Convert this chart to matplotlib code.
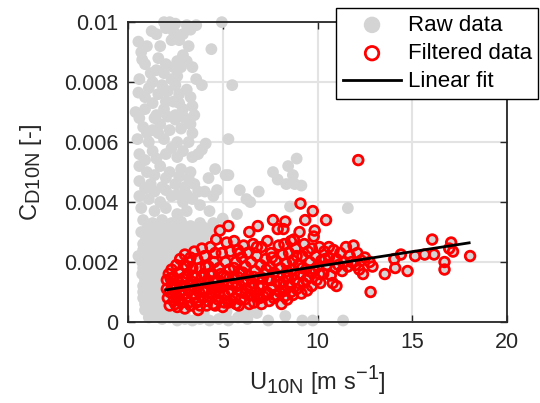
import numpy as np
import matplotlib.pyplot as plt
import matplotlib._mathtext as mathtext
from matplotlib.ticker import FuncFormatter

# raw points not kept by the filter: U10N [m/s], CD10N x 1000
raw_only = np.array([
    [4.95, 10.0], [1.9, 10.0], [2.2, 10.0], [2.5, 9.95], [2.0, 9.8], [3.1, 9.9], [3.3, 9.75], [2.4, 9.7],
    [1.25, 9.7], [0.55, 9.35], [1.7, 9.2], [2.3, 9.4], [4.4, 9.1], [3.2, 9.2], [0.7, 9.0],
    [2.9, 8.9], [3.1, 8.7], [3.4, 8.5], [2.8, 8.5], [0.9, 8.6], [0.75, 8.75], [2.0, 8.6], [1.5, 8.4],
    [1.9, 8.3], [2.6, 8.2], [2.3, 8.1], [1.3, 8.0], [0.6, 8.1], [3.9, 7.9], [5.5, 7.9], [2.5, 7.9],
    [3.1, 7.75], [0.55, 7.65], [0.9, 7.5], [1.6, 7.6], [2.1, 7.7], [2.7, 7.6], [3.3, 7.5], [2.4, 7.35],
    [1.3, 7.3], [0.4, 7.0], [0.9, 7.1], [1.9, 7.1], [2.9, 7.1], [3.4, 7.2], [3.5, 6.9], [2.5, 6.9], [1.5, 6.9],
    [0.6, 6.8], [1.4, 6.8], [2.5, 6.75], [3.0, 6.8], [3.3, 6.6], [0.8, 6.5], [1.3, 6.4], [2.2, 6.4],
    [2.8, 6.45], [3.4, 6.3], [0.5, 6.1], [1.1, 6.0], [1.9, 6.1], [2.6, 6.0], [3.2, 6.0], [4.1, 5.95],
    [5.3, 6.1], [0.6, 5.6], [1.3, 5.7], [2.0, 5.6], [2.6, 5.5], [3.4, 5.5], [3.7, 5.6], [3.9, 5.75],
    [0.6, 5.2], [1.0, 5.0], [1.7, 5.2], [2.2, 5.0], [2.8, 5.1], [3.3, 5.0], [4.6, 5.1], [4.25, 4.8],
    [5.15, 4.9], [0.6, 4.7], [1.2, 4.6], [1.8, 4.5], [2.5, 4.6], [3.0, 4.5], [3.5, 4.6], [4.05, 4.35],
    [0.6, 4.2], [1.1, 4.1], [1.7, 4.0], [2.3, 4.2], [2.9, 4.0], [3.4, 4.1], [3.8, 3.9], [4.3, 3.7],
    [0.7, 3.8], [1.4, 3.7], [2.0, 3.8], [2.6, 3.6], [3.1, 3.7],
    [1.0, 6.3], [1.6, 6.3], [2.3, 5.8], [1.5, 5.45], [2.9, 5.7], [0.9, 5.4], [1.4, 4.9], [2.0, 4.8],
    [2.7, 4.85], [3.2, 4.8], [3.7, 4.35], [2.0, 4.4], [1.4, 4.35], [0.9, 4.45], [2.6, 4.25], [3.1, 4.25],
    [1.7, 6.6], [2.1, 6.85], [2.0, 7.35], [2.7, 7.3], [1.1, 7.8], [1.8, 7.9], [3.6, 8.1], [1.2, 8.3],
    [2.4, 8.5], [1.6, 8.8], [2.6, 8.7], [1.0, 9.2], [2.7, 9.4], [1.5, 9.6], [2.9, 9.6], [3.6, 9.9],
    [8.9, 5.45], [8.45, 5.2], [7.65, 5.0], [8.7, 4.9], [7.9, 4.75], [8.35, 4.6], [8.8, 4.6], [9.15, 4.55],
    [5.3, 4.9], [5.9, 4.4], [6.9, 4.35], [6.25, 4.1], [6.45, 4.0], [5.75, 3.6], [11.6, 3.8], [8.55, 3.85],
    [4.7, 4.4], [4.5, 4.2],
    [0.8, 3.4], [1.3, 3.3], [1.8, 3.4], [2.3, 3.3], [2.8, 3.35], [3.3, 3.2], [3.8, 3.3], [4.5, 3.3], [5.0, 3.45],
    [1.05, 3.15], [1.55, 3.2], [2.05, 3.1], [2.55, 3.2], [3.05, 3.05], [3.55, 3.1], [4.0, 3.15],
    [0.7, 3.0], [1.1, 2.9], [1.6, 3.0], [2.1, 2.9], [2.6, 3.0], [3.1, 2.85], [3.6, 2.95], [4.2, 3.0], [4.6, 3.1],
    [0.95, 2.75], [1.4, 2.8], [1.85, 2.75], [2.35, 2.8], [2.85, 2.75], [3.4, 2.8], [4.0, 2.8],
    [0.8, 2.6], [1.2, 2.5], [1.7, 2.6], [2.2, 2.55], [2.7, 2.5], [3.2, 2.6], [3.7, 2.7],
    [0.8, 2.4], [1.05, 2.35], [1.5, 2.4], [1.95, 2.4], [2.5, 2.4], [3.0, 2.3],
    [0.55, 2.2], [0.9, 2.2], [1.4, 2.15], [1.9, 2.2], [2.4, 2.3],
    [0.75, 2.0], [1.05, 2.0], [1.45, 1.95], [1.8, 2.0], [2.25, 2.05],
    [0.8, 1.8], [1.2, 1.75], [1.6, 1.85], [2.0, 1.8],
    [0.75, 1.6], [1.0, 1.6], [1.4, 1.6], [1.8, 1.55],
    [0.9, 1.4], [1.3, 1.35], [1.7, 1.4],
    [0.8, 1.2], [1.05, 1.2], [1.5, 1.2], [1.8, 1.15],
    [0.8, 1.0], [1.2, 0.95], [1.6, 1.0], [1.9, 0.9],
    [0.8, 0.8], [1.05, 0.8], [1.45, 0.8], [1.8, 0.75],
    [0.9, 0.6], [1.3, 0.55], [1.7, 0.6], [2.0, 0.5],
    [0.9, 0.4], [1.15, 0.35], [1.55, 0.4], [1.9, 0.3], [2.3, 0.3],
    [1.1, 0.15], [1.4, 0.2], [1.8, 0.1], [2.2, 0.15], [2.6, 0.05], [3.0, 0.1], [3.4, 0.05], [3.8, 0.1],
    [4.3, 0.05], [4.8, 0.1], [5.3, 0.05], [5.8, 0.15], [6.3, 0.1], [6.8, 0.3], [7.4, 0.05], [8.3, 0.2],
    [9.2, 0.05], [9.75, 0.05], [11.35, 0.05],
    [5.2, 0.35], [6.0, 0.3], [6.5, 0.4], [4.0, 0.3], [3.0, 0.3], [2.5, 0.35],
])

# filtered points: U10N [m/s], CD10N x 1000
filtered = np.array([
    [2.05, 1.4], [2.05, 1.1], [2.1, 0.8], [2.15, 1.6], [2.2, 0.55], [2.3, 1.25], [2.35, 0.95], [2.3, 1.75],
    [2.4, 0.7], [2.4, 1.5],
    [2.5, 1.1], [2.55, 1.9], [2.6, 0.5], [2.6, 0.85], [2.65, 1.35], [2.7, 1.65], [2.75, 2.1], [2.8, 1.0],
    [2.85, 0.65], [2.9, 1.45], [2.95, 1.9], [3.0, 1.2], [3.0, 0.45], [3.0, 2.25],
    [3.1, 0.8], [3.15, 1.6], [3.2, 1.05], [3.25, 2.0], [3.3, 0.55], [3.35, 1.35], [3.4, 1.8], [3.45, 0.9],
    [3.5, 2.35], [3.5, 1.15],
    [3.6, 0.65], [3.6, 1.5], [3.65, 2.1], [3.7, 0.4], [3.75, 1.0], [3.8, 1.8], [3.85, 1.3], [3.9, 2.45],
    [3.95, 0.8], [4.0, 1.6],
    [4.05, 2.2], [4.1, 1.05], [4.15, 0.55], [4.2, 1.4], [4.25, 1.85], [4.3, 0.85], [4.35, 2.5], [4.4, 1.2],
    [4.45, 1.6], [4.5, 0.6],
    [4.55, 2.0], [4.6, 1.0], [4.65, 2.75], [4.7, 1.4], [4.75, 0.75], [4.8, 1.8], [4.85, 3.05], [4.9, 1.15],
    [4.95, 2.3], [5.0, 0.5],
    [5.05, 1.55], [5.1, 0.9], [5.15, 2.0], [5.2, 2.65], [5.25, 1.25], [5.3, 3.2], [5.3, 0.65], [5.35, 1.75],
    [5.4, 2.35], [5.45, 1.05],
    [5.55, 1.45], [5.6, 2.7], [5.65, 0.8], [5.7, 2.0], [5.75, 1.2], [5.8, 2.4], [5.85, 0.55], [5.9, 1.65],
    [5.95, 1.0], [6.0, 2.15],
    [6.05, 1.35], [6.1, 2.55], [6.15, 0.75], [6.2, 1.85], [6.25, 1.1], [6.3, 2.3], [6.35, 1.55], [6.4, 3.0],
    [6.45, 0.9], [6.5, 2.0],
    [6.55, 1.3], [6.6, 2.6], [6.65, 0.65], [6.7, 1.7], [6.75, 1.0], [6.8, 2.2], [6.85, 3.2], [6.9, 1.45],
    [6.95, 0.8], [7.0, 1.9],
    [7.05, 2.5], [7.1, 1.2], [7.15, 0.85], [7.2, 1.6], [7.25, 2.1], [7.3, 1.0], [7.35, 2.7], [7.4, 1.4],
    [7.45, 0.7], [7.5, 1.85],
    [7.55, 2.3], [7.65, 3.4], [7.6, 1.15], [7.7, 1.65], [7.75, 0.9], [7.8, 2.05], [7.85, 1.35], [7.9, 3.1],
    [7.95, 2.55], [8.0, 1.0],
    [8.05, 1.8], [8.1, 0.6], [8.15, 2.25], [8.2, 1.35], [8.2, 3.1], [8.25, 2.6], [8.3, 3.35], [8.3, 1.05],
    [8.35, 1.95], [8.4, 0.75], [8.45, 1.5], [8.5, 2.3],
    [8.55, 1.2], [8.6, 2.7], [8.65, 1.75], [8.7, 0.9], [8.7, 2.05], [8.75, 2.75], [8.8, 1.4], [8.85, 2.45],
    [8.9, 1.1], [9.0, 1.9],
    [9.05, 3.0], [9.1, 3.95], [9.1, 1.6], [9.15, 0.95], [9.2, 2.2], [9.25, 1.3], [9.3, 2.6], [9.35, 3.4],
    [9.4, 1.75], [9.45, 1.05],
    [9.5, 2.35], [9.55, 1.5], [9.6, 2.0], [9.7, 1.2], [9.75, 3.7], [9.8, 2.85], [9.8, 1.75], [9.85, 3.05],
    [9.9, 2.2], [9.95, 1.4],
    [10.0, 1.85], [10.1, 2.5], [10.15, 1.3], [10.2, 2.05], [10.3, 1.6], [10.35, 2.35], [10.45, 3.4], [10.5, 1.9],
    [10.6, 2.15], [10.7, 1.55], [10.8, 1.3], [10.85, 2.4], [10.95, 1.8], [11.0, 1.2], [11.0, 2.1],
    [11.2, 2.3], [11.3, 1.7], [11.4, 2.0], [11.5, 2.5], [11.6, 1.85], [11.7, 2.2], [11.9, 2.55], [12.0, 1.9],
    [12.1, 2.3], [12.15, 5.4], [12.2, 1.75], [12.3, 2.05], [12.4, 1.6], [12.5, 2.15],
    [12.8, 1.0], [12.9, 1.85], [12.75, 2.0], [13.55, 1.6], [14.1, 1.8], [14.05, 2.1], [14.4, 2.25], [14.75, 1.7],
    [15.15, 2.2], [15.65, 2.25], [16.15, 2.25], [16.05, 2.75], [16.7, 2.0], [16.7, 1.75], [16.95, 2.45],
    [17.05, 2.65], [17.15, 2.35], [18.05, 2.2],
    [2.2, 1.0], [2.25, 1.45], [2.45, 1.2], [2.5, 0.6], [2.7, 0.75], [2.75, 1.2], [2.9, 0.9], [3.05, 1.5],
    [3.1, 1.85], [3.2, 0.65], [3.3, 1.2], [3.4, 1.55], [3.55, 0.8], [3.7, 1.2], [3.8, 0.55], [3.9, 1.5],
    [4.0, 1.0], [4.1, 1.85], [4.2, 0.7], [4.3, 1.6], [4.4, 0.95], [4.5, 1.35], [4.6, 0.55], [4.7, 1.15],
    [4.8, 0.95], [4.9, 1.6], [5.0, 1.3], [5.1, 0.65], [5.2, 1.5], [5.3, 1.0], [5.45, 0.7], [5.5, 1.25],
    [5.6, 1.8], [5.7, 0.6], [5.8, 1.5], [5.95, 0.75], [6.05, 1.65], [6.2, 0.95], [6.3, 1.4], [6.4, 0.6],
    [6.5, 1.15], [6.65, 1.5], [6.8, 0.85], [6.9, 1.2], [7.05, 0.6], [7.1, 1.45], [7.3, 1.75], [7.4, 0.95],
    [7.55, 1.4], [7.7, 0.8], [7.9, 1.55], [8.0, 1.25], [8.25, 0.85], [8.4, 1.7], [8.6, 1.0], [8.75, 1.6],
    [9.0, 1.3], [9.2, 1.8], [9.4, 1.4], [9.6, 1.7], [10.1, 1.6], [10.4, 2.1], [11.1, 1.9], [11.8, 2.0],
    [4.6, 2.3], [3.3, 2.15], [5.9, 2.3], [6.8, 2.5], [7.6, 2.15], [8.9, 2.2], [9.7, 2.45], [10.6, 2.5],
])

fit_u = [2.0, 18.0]
fit_cd = [0.00107, 0.00264]

raw = np.vstack([raw_only, filtered])

# MATLAB style sub/superscripts are close to full size
mathtext.SHRINK_FACTOR = 0.85
plt.rcParams['font.family'] = ['Liberation Sans', 'DejaVu Sans']

fig = plt.figure(figsize=(5.4, 4.03), dpi=100)
ax = fig.add_axes([0.237, 0.201, 0.702, 0.744])

ax.scatter(raw[:, 0], raw[:, 1] * 1e-3, s=72, c='#d4d4d4', edgecolors='none',
           clip_on=False, zorder=2, label='Raw data')
ax.scatter(filtered[:, 0], filtered[:, 1] * 1e-3, s=48, facecolors='none', edgecolors='red',
           linewidths=2.0, clip_on=False, zorder=3, label='Filtered data')
ax.plot(fit_u, fit_cd, color='black', lw=2.0, zorder=4, label='Linear fit')

ax.set_xlim(0, 20)
ax.set_ylim(0, 0.01)
ax.set_xticks([0, 5, 10, 15, 20])
ax.set_yticks([0, 0.002, 0.004, 0.006, 0.008, 0.01])
ax.yaxis.set_major_formatter(FuncFormatter(lambda v, p: '%g' % v))
ax.grid(color='#e3e3e3', lw=1.5)
ax.set_axisbelow(True)
ax.tick_params(direction='in', top=True, right=True, length=5, width=1,
               labelsize=15.5, colors='#262626', pad=7)
for s in ax.spines.values():
    s.set_color('#262626')
    s.set_linewidth(1.3)

ax.set_xlabel(r'$\mathregular{U_{10N}}$ [m s$^{\mathregular{-1}}$]', fontsize=17, color='#262626', labelpad=8)
ax.set_ylabel(r'$\mathregular{C_{D10N}}$ [-]', fontsize=17, color='#262626', labelpad=14)

leg = ax.legend(loc='upper right', bbox_to_anchor=(0.997, 0.98), bbox_transform=fig.transFigure,
                fontsize=16, fancybox=False, framealpha=1, edgecolor='black',
                markerscale=1.4, handlelength=2.6, labelspacing=0.33, borderpad=0.3,
                handletextpad=0.3, borderaxespad=0)
leg.get_frame().set_linewidth(1.0)
leg.set_zorder(10)

plt.savefig('out.png', dpi=100)
